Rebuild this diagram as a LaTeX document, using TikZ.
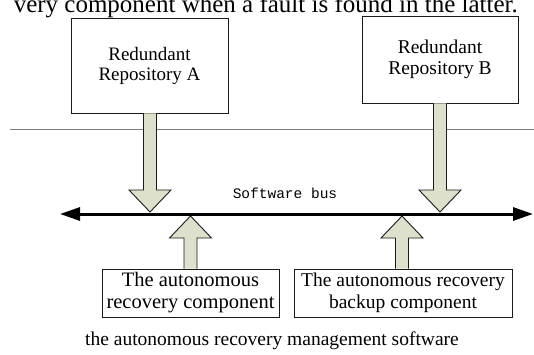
\documentclass[tikz,border=0pt]{standalone}
\usepackage{fontspec}
\setmainfont{Liberation Serif}
\setmonofont{Liberation Mono}
\usetikzlibrary{arrows.meta,positioning,calc}
\definecolor{cBlock}{HTML}{DDE0CB}
\definecolor{cRule}{HTML}{7F7F7F}
\definecolor{cInk}{HTML}{1A1A1A}

\begin{document}
\begin{tikzpicture}[
  x=1pt,y=-1pt,
  box/.style={draw=cInk,line width=0.9pt,align=center,inner sep=0pt},
  blk/.style={fill=cBlock,draw=cInk,line width=0.9pt,line join=miter},
  bus/.style={{Triangle[length=20pt,width=13pt]}-{Triangle[length=20pt,width=13pt]},line width=3pt,color=black},
  rule/.style={line width=0.9pt,color=cRule},
]
\useasboundingbox (0,0) rectangle (534,354);

% block arrow: #1 root on the box, #2 tip on the bus, #3 = 1 down / -1 up
\newcommand{\blockarrow}[3]{%
  \filldraw[blk] ($(#1)+(-6.5,0)$) -- ($(#2)+(-6.5,{-22*#3})$)
    -- ($(#2)+(-21,{-22*#3})$) -- (#2) -- ($(#2)+(21,{-22*#3})$)
    -- ($(#2)+(6.5,{-22*#3})$) -- ($(#1)+(6.5,0)$);}

% ============================================================ cut text line
\node[anchor=base east,inner sep=0pt,font=\fontsize{25}{25}\selectfont]
  (cutline) at (518,12.5) {very component when a fault is found in the latter.};

% ============================================================ repositories
\node[box,minimum width=157pt,minimum height=95pt,font=\fontsize{19}{20}\selectfont]
  (repoA) at (149.5,65.5) {Redundant\\Repository A};
\node[box,minimum width=156pt,minimum height=87pt,font=\fontsize{19.5}{21}\selectfont]
  (repoB) at (440,59.5) {Redundant\\Repository B};

% separating rule
\coordinate (ruleW) at (10,129);
\coordinate (ruleE) at (534,129);
\draw[rule] (ruleW) -- (ruleE);

% ============================================================ components
\node[box,minimum width=177pt,minimum height=48pt,font=\fontsize{20.5}{22}\selectfont]
  (arc) at (190.5,293) {The autonomous\\recovery component};
\node[box,minimum width=218pt,minimum height=48pt,font=\fontsize{19.5}{22}\selectfont]
  (arbc) at (403,293) {The autonomous recovery\\backup component};
\node[anchor=base,inner sep=0pt,font=\fontsize{19.5}{20}\selectfont]
  (caption) at (272,345) {the autonomous recovery management software};

% ============================================================ block arrows
\coordinate (tipA) at (150,212);
\coordinate (tipB) at (440,212);
\coordinate (tipC) at (190.5,216);
\coordinate (tipD) at (402,216);
\coordinate (rootA) at (repoA.south -| tipA);
\coordinate (rootB) at (repoB.south -| tipB);
\coordinate (rootC) at (arc.north -| tipC);
\coordinate (rootD) at (arbc.north -| tipD);
\blockarrow{rootA}{tipA}{1}
\blockarrow{rootB}{tipB}{1}
\blockarrow{rootC}{tipC}{-1}
\blockarrow{rootD}{tipD}{-1}

% ============================================================ software bus
\coordinate (busW) at (60,214);
\coordinate (busE) at (533,214);
\draw[bus] (busW) -- (busE);
\node[anchor=base,inner sep=0pt,font=\fontsize{14.5}{15}\selectfont\ttfamily]
  (busname) at (285,198) {Software bus};

\end{tikzpicture}
\end{document}
